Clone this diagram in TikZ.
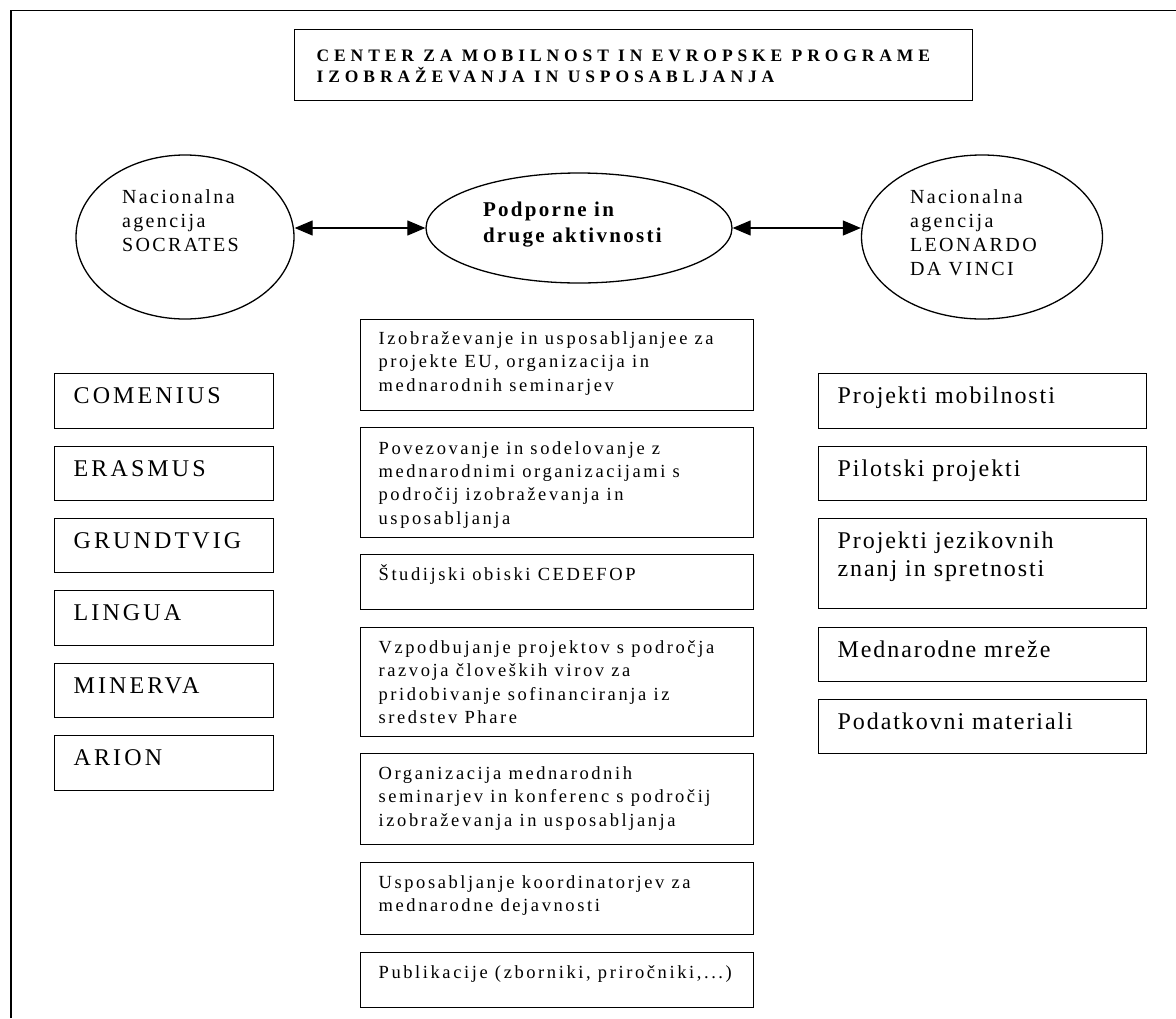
\documentclass[tikz,border=0pt]{standalone}
\usepackage{fontspec}
\setmainfont{Liberation Serif}
\newfontfamily\fTitle[LetterSpace=28]{Liberation Serif}
\newfontfamily\fLeft[LetterSpace=13]{Liberation Serif}
\newfontfamily\fMid[LetterSpace=14]{Liberation Serif}
\newfontfamily\fRight[LetterSpace=8]{Liberation Serif}
\newfontfamily\fEll[LetterSpace=12]{Liberation Serif}
\newfontfamily\fCen[LetterSpace=11]{Liberation Serif}
\usetikzlibrary{arrows.meta,shapes.geometric}
% width, height, first baseline from top, left indent, lines
\newcommand{\tx}[5]{\parbox[c][#2][t]{#1}{\vspace*{\dimexpr#3-0.7\baselineskip\relax}\noindent\hspace*{#4}\begin{tabular}[t]{@{}l@{}}#5\end{tabular}}}
\tikzset{
  box/.style={draw, rectangle, inner sep=0pt, line width=1.3pt, anchor=north west},
  ell/.style={draw, ellipse, inner sep=0pt, line width=1.3pt},
  lcol/.style={box, font=\fLeft\fontsize{24}{28}\selectfont},
  mcol/.style={box, font=\fMid\fontsize{18.5}{23.3}\selectfont},
  rcol/.style={box, font=\fRight\fontsize{24}{28}\selectfont},
  arr/.style={{Triangle[length=18pt,width=15pt]}-{Triangle[length=18pt,width=15pt]}, line width=1.2pt},
  frame/.style={line width=1.5pt}
}
\begin{document}
\begin{tikzpicture}[x=1pt,y=-1pt]
\useasboundingbox (0,0) rectangle (1176,1018);
\fill[white] (0,0) rectangle (1176,1018);
\draw[frame] (11,1018) -- (11,10.7) -- (1176,10.7);

% title
\node[box, font=\fTitle\bfseries\fontsize{17.5}{19.5}\selectfont] (title) at (294,29)
  {\tx{678pt}{71pt}{32pt}{22pt}{CENTER ZA MOBILNOST IN EVROPSKE PROGRAME\\IZOBRAŽEVANJA IN USPOSABLJANJA}};

% ellipses
\node[ell, minimum width=218pt, minimum height=164pt, font=\fEll\fontsize{20}{24}\selectfont] (lell) at (185,237)
  {\tx{130pt}{100pt}{16pt}{2pt}{Nacionalna\\agencija\\SOCRATES}};
\node[ell, minimum width=306pt, minimum height=110pt, font=\fCen\bfseries\fontsize{21}{26}\selectfont] (cell) at (579,228)
  {\tx{200pt}{70pt}{23pt}{4pt}{Podporne in\\druge aktivnosti}};
\node[ell, minimum width=241pt, minimum height=164pt, font=\fEll\fontsize{20}{24}\selectfont] (rell) at (982,237)
  {\tx{150pt}{110pt}{21pt}{3pt}{Nacionalna\\agencija\\LEONARDO\\DA VINCI}};

\draw[arr] (cell.west -| lell.east) -- (cell.west);
\draw[arr] (cell.east) -- (cell.east -| rell.west);

% left column
\node[lcol] (l1) at (54,373) {\tx{219pt}{55pt}{30pt}{19pt}{COMENIUS}};
\node[lcol] (l2) at (54,446) {\tx{219pt}{54pt}{30pt}{19pt}{ERASMUS}};
\node[lcol] (l3) at (54,518) {\tx{219pt}{54pt}{30pt}{19pt}{GRUNDTVIG}};
\node[lcol] (l4) at (54,590) {\tx{219pt}{55pt}{30pt}{19pt}{LINGUA}};
\node[lcol] (l5) at (54,663) {\tx{219pt}{54pt}{30pt}{19pt}{MINERVA}};
\node[lcol] (l6) at (54,735) {\tx{219pt}{55pt}{30pt}{19pt}{ARION}};

% middle column
\node[mcol] (m1) at (360,319) {\tx{393pt}{91pt}{25pt}{18pt}{Izobraževanje in usposabljanjee za\\projekte EU, organizacija in\\mednarodnih seminarjev}};
\node[mcol] (m2) at (360,427) {\tx{393pt}{110pt}{26.5pt}{18pt}{Povezovanje in sodelovanje z\\mednarodnimi organizacijami s\\področij izobraževanja in\\usposabljanja}};
\node[mcol] (m3) at (360,554) {\tx{393pt}{55pt}{26pt}{18pt}{Študijski obiski CEDEFOP}};
\node[mcol] (m4) at (360,627) {\tx{393pt}{109pt}{26pt}{18pt}{Vzpodbujanje projektov s področja\\razvoja človeških virov za\\pridobivanje sofinanciranja iz\\sredstev Phare}};
\node[mcol] (m5) at (360,753) {\tx{393pt}{91pt}{26pt}{18pt}{Organizacija mednarodnih\\seminarjev in konferenc s področij\\izobraževanja in usposabljanja}};
\node[mcol] (m6) at (360,862) {\tx{393pt}{72pt}{26pt}{18pt}{Usposabljanje koordinatorjev za\\mednarodne dejavnosti}};
\node[mcol] (m7) at (360,952) {\tx{393pt}{55pt}{26pt}{18pt}{Publikacije (zborniki, priročniki,...)}};

% right column
\node[rcol] (r1) at (818,373) {\tx{328pt}{55pt}{30pt}{19pt}{Projekti mobilnosti}};
\node[rcol] (r2) at (818,446) {\tx{328pt}{54pt}{30pt}{19pt}{Pilotski projekti}};
\node[rcol] (r3) at (818,518) {\tx{328pt}{90pt}{30pt}{19pt}{Projekti jezikovnih\\znanj in spretnosti}};
\node[rcol] (r4) at (818,627) {\tx{328pt}{54pt}{30pt}{19pt}{Mednarodne mreže}};
\node[rcol] (r5) at (818,699) {\tx{328pt}{54pt}{30pt}{19pt}{Podatkovni materiali}};
\end{tikzpicture}
\end{document}
